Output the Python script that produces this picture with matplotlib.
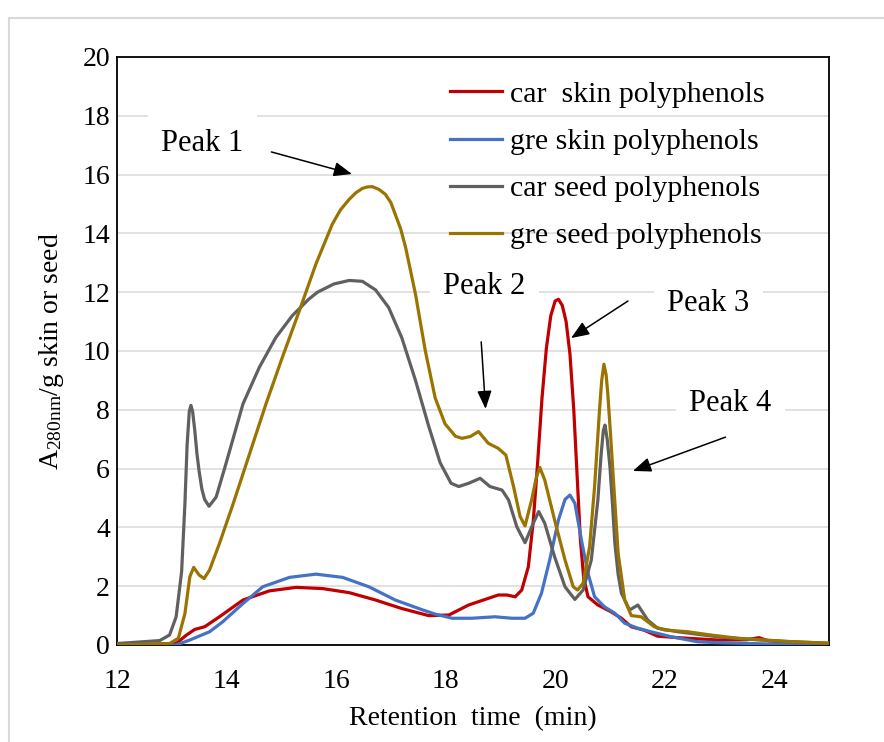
import matplotlib
matplotlib.use("Agg")
from matplotlib import pyplot as plt
from matplotlib.patches import Rectangle

plt.rcParams['font.family'] = ['Liberation Serif', 'DejaVu Serif']
plt.rcParams['mathtext.default'] = 'regular'

# retention time (min) and absorbance
car_skin_x = [12, 13.08, 13.27, 13.42, 13.6, 13.87, 14.3, 14.78, 15.27, 15.75, 16.24, 16.72,
              17.2, 17.69, 18.06, 18.42, 18.96, 19.12, 19.27, 19.39, 19.51, 19.6, 19.68, 19.76,
              19.84, 19.92, 20.0, 20.06, 20.13, 20.2, 20.27, 20.34, 20.4, 20.46, 20.52, 20.6,
              20.78, 21.02, 21.21, 21.39, 21.63, 21.87, 22.24, 22.96, 23.5, 23.72, 23.9, 24.5, 25]
car_skin_y = [0, 0.05, 0.34, 0.53, 0.62, 0.96, 1.53, 1.84, 1.96, 1.92, 1.78, 1.53,
              1.24, 1.0, 1.02, 1.36, 1.7, 1.7, 1.64, 1.87, 2.66, 4.2, 6.2, 8.4,
              10.1, 11.2, 11.7, 11.76, 11.55, 11.0, 9.9, 8.0, 5.8, 3.6, 2.3, 1.64,
              1.36, 1.13, 0.91, 0.62, 0.5, 0.3, 0.25, 0.17, 0.18, 0.25, 0.14, 0.08, 0.04]

gre_skin_x = [12, 13.08, 13.33, 13.69, 13.93, 14.3, 14.66, 15.15, 15.63, 16.12, 16.6, 17.08,
              17.57, 17.81, 18.12, 18.48, 18.9, 19.21, 19.45, 19.6, 19.75, 19.9, 20.06, 20.18,
              20.27, 20.36, 20.48, 20.6, 20.72, 20.9, 21.09, 21.27, 21.51, 21.75, 22.12, 22.6,
              22.96, 24.0, 25]
gre_skin_y = [0, 0, 0.17, 0.45, 0.79, 1.41, 1.98, 2.30, 2.41, 2.30, 1.98, 1.53,
              1.2, 1.05, 0.91, 0.91, 0.96, 0.91, 0.91, 1.08, 1.76, 2.89, 4.25, 4.95,
              5.1, 4.82, 3.57, 2.44, 1.64, 1.3, 1.08, 0.74, 0.57, 0.45, 0.28, 0.11,
              0.08, 0.03, 0.0]

car_seed_x = [12, 12.78, 12.96, 13.08, 13.18, 13.24, 13.28, 13.32, 13.35, 13.38, 13.42, 13.46,
              13.5, 13.55, 13.6, 13.68, 13.81, 13.99, 14.3, 14.6, 14.9, 15.2, 15.5, 15.66,
              15.96, 16.24, 16.48, 16.72, 16.96, 17.2, 17.45, 17.69, 17.9, 18.1, 18.24, 18.42,
              18.63, 18.81, 19.03, 19.15, 19.3, 19.45, 19.6, 19.7, 19.81, 19.99, 20.18, 20.36,
              20.51, 20.66, 20.78, 20.84, 20.88, 20.91, 20.95, 21.0, 21.05, 21.09, 21.15, 21.21,
              21.36, 21.51, 21.69, 21.87, 22.24, 22.96, 23.5, 24.2, 25]
car_seed_y = [0.05, 0.15, 0.34, 0.96, 2.5, 4.8, 6.8, 7.95, 8.15, 7.95, 7.3, 6.5,
              5.9, 5.3, 4.95, 4.72, 5.03, 6.17, 8.2, 9.45, 10.46, 11.2, 11.76, 12.0,
              12.28, 12.4, 12.37, 12.08, 11.48, 10.45, 9.0, 7.45, 6.2, 5.5, 5.39, 5.5,
              5.67, 5.39, 5.27, 4.93, 4.02, 3.48, 4.14, 4.54, 4.14, 3.0, 1.98, 1.55,
              1.87, 2.89, 4.93, 6.5, 7.3, 7.48, 7.0, 6.07, 4.7, 3.46, 2.4, 1.76,
              1.19, 1.36, 0.85, 0.57, 0.45, 0.28, 0.2, 0.12, 0.06]

gre_seed_x = [12, 12.96, 13.12, 13.24, 13.33, 13.4, 13.5, 13.59, 13.69, 13.87, 14.12, 14.42,
              14.72, 15.02, 15.33, 15.63, 15.93, 16.08, 16.24, 16.36, 16.48, 16.57, 16.66, 16.78,
              16.9, 17.0, 17.08, 17.18, 17.27, 17.45, 17.63, 17.81, 17.99, 18.18, 18.3, 18.45,
              18.6, 18.78, 18.96, 19.1, 19.24, 19.36, 19.45, 19.57, 19.66, 19.72, 19.81, 19.99,
              20.18, 20.33, 20.41, 20.51, 20.63, 20.72, 20.81, 20.85, 20.89, 20.93, 20.96, 21.01,
              21.06, 21.15, 21.27, 21.39, 21.57, 21.81, 22.0, 22.42, 22.84, 23.33, 23.81, 24.36, 25]
gre_seed_y = [0, 0.05, 0.23, 1.07, 2.32, 2.64, 2.38, 2.26, 2.55, 3.45, 4.8, 6.5,
              8.2, 9.79, 11.37, 12.95, 14.31, 14.8, 15.16, 15.38, 15.53, 15.58, 15.59, 15.5,
              15.33, 15.05, 14.65, 14.15, 13.52, 11.93, 10.0, 8.4, 7.52, 7.1, 7.03, 7.09,
              7.26, 6.86, 6.69, 6.46, 5.39, 4.37, 4.05, 4.93, 5.73, 6.04, 5.61, 4.25,
              2.89, 1.98, 1.87, 2.1, 3.36, 5.39, 8.0, 9.0, 9.55, 9.2, 8.57, 7.2,
              5.73, 3.12, 1.53, 1.0, 0.96, 0.62, 0.51, 0.45, 0.34, 0.23, 0.17, 0.11, 0.06]

series_labels = ['car  skin polyphenols', 'gre skin polyphenols',
                 'car seed polyphenols', 'gre seed polyphenols']
series_colors = ['#C00000', '#4472C4', '#606060', '#9A7300']

peak_labels = ['Peak 1', 'Peak 2', 'Peak 3', 'Peak 4']
peak_text_xy = [(13.56, 17.07), (18.71, 12.18), (22.8, 11.63), (23.2, 8.2)]
peak_tail_xy = [(14.82, 16.77), (18.65, 10.31), (21.33, 11.70), (23.11, 7.07)]
peak_head_xy = [(16.29, 16.02), (18.73, 8.03), (20.29, 10.44), (21.42, 5.92)]

fig = plt.figure(figsize=(8.84, 7.42), dpi=100)
ax = fig.add_axes([117/884, 1 - 645/742, (829 - 117)/884, (645 - 57)/742])

# light border round the chart area
fig.patches.append(Rectangle((9/884, -0.1), 1.2, 1 - 18/742 + 0.1, transform=fig.transFigure,
                             fill=False, edgecolor='#D9D9D9', linewidth=1.5))

xs = [car_skin_x, gre_skin_x, car_seed_x, gre_seed_x]
ys = [car_skin_y, gre_skin_y, car_seed_y, gre_seed_y]
for x, y, lab, col in zip(xs, ys, series_labels, series_colors):
    ax.plot(x, y, color=col, linewidth=2.3, label=lab, solid_joinstyle='round', zorder=3)

ax.set_xlim(12, 25)
ax.set_ylim(0, 20)
ax.set_xticks(range(12, 25, 2))
ax.set_yticks(range(0, 21, 2))
ax.yaxis.grid(True, color='#D9D9D9', linewidth=1.1)
ax.set_axisbelow(True)
ax.tick_params(length=0, labelsize=20)
ax.tick_params(axis='x', pad=17)
ax.tick_params(axis='y', pad=5)
for s in ax.spines.values():
    s.set_linewidth(1.3)
    s.set_color('black')

ax.set_xlabel('Retention  time  (min)', fontsize=20, labelpad=9)
ax.set_ylabel('A$_{280nm}$/g skin or seed', fontsize=20, labelpad=12)

ax.legend(loc='upper right', bbox_to_anchor=(0.947, 1.005), frameon=False, fontsize=21.5,
          handlelength=1.75, handletextpad=0.25, labelspacing=0.68)

for lab, txy, tail, head in zip(peak_labels, peak_text_xy, peak_tail_xy, peak_head_xy):
    ax.text(txy[0], txy[1], lab, fontsize=22, ha='center', va='center', zorder=2,
            bbox=dict(boxstyle='square,pad=0.45', fc='white', ec='none'))
    ax.annotate('', xy=head, xytext=tail, zorder=4,
                arrowprops=dict(arrowstyle='-|>,head_length=0.55,head_width=0.22',
                                color='black', lw=1.1, mutation_scale=20,
                                shrinkA=0, shrinkB=0))

fig.savefig('out.png', dpi=100)
